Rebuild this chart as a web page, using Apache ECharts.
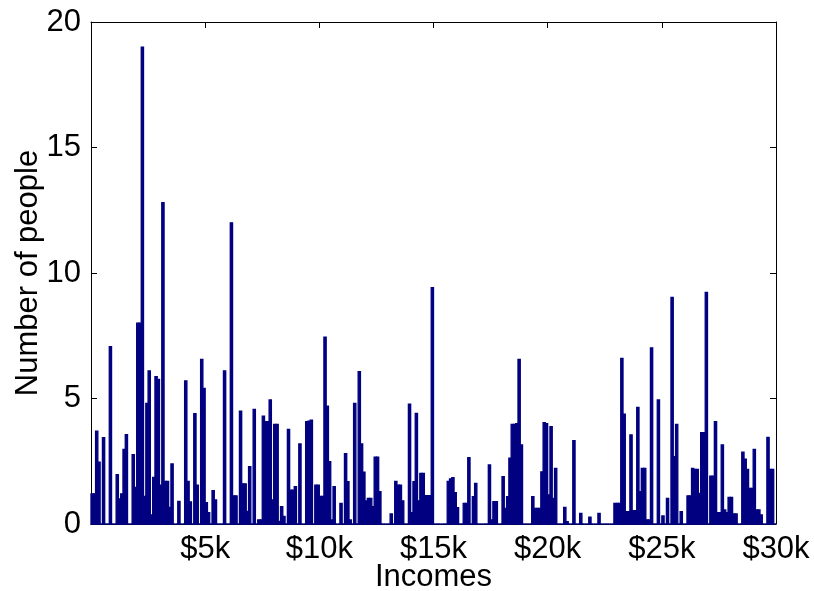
<!DOCTYPE html>
<html>
<head>
<meta charset="utf-8">
<script src="https://cdn.jsdelivr.net/npm/echarts@6/dist/echarts.min.js"></script>
<style>
  html, body { margin: 0; padding: 0; background: #ffffff; overflow: hidden; }
  #chart { position: absolute; left: 0; top: 0; width: 814px; height: 591px; }
</style>
</head>
<body>
<div id="chart"></div>
<script>
// Income histogram: 300 bins of $100 from $0 to $30k
const binStart = 0;        // dollars
const binWidth = 100;      // dollars per bin
const counts = [
  1.2, 1.2, 3.7, 2.46, 0, 3.44, 0, 0, 7.07, 0,
  0, 1.97, 1.0, 1.2, 2.97, 3.56, 0, 0, 2.76, 1.46,
  8.0, 8.0, 19.0, 1.1, 4.8, 6.1, 0.36, 1.86, 5.87, 5.76,
  1.55, 12.8, 1.7, 1.7, 0.66, 2.39, 0, 0, 0.9, 0,
  0, 5.7, 1.7, 0.88, 0, 4.4, 1.55, 0, 6.56, 5.4,
  0.85, 0.45, 0, 1.33, 0.96, 0, 0, 0, 6.1, 0,
  0, 12.0, 1.12, 1.12, 0, 4.5, 1.6, 1.6, 0.5, 2.28,
  0, 4.57, 0, 0.16, 0.16, 4.3, 4.08, 4.08, 4.94, 0.96,
  3.97, 3.97, 0.1, 0.69, 0.3, 0, 3.77, 1.35, 1.35, 1.49,
  0, 3.19, 0, 0, 4.08, 4.1, 4.14, 0, 1.55, 1.55,
  1.1, 1.1, 7.44, 4.7, 2.48, 0.16, 1.49, 0, 0, 0.82,
  0, 2.8, 1.69, 0.16, 0, 4.8, 0, 6.07, 3.19, 2.07,
  0.92, 1.02, 1.02, 0.69, 2.66, 2.66, 1.29, 0, 0, 0,
  0, 0.4, 0, 1.7, 1.55, 1.55, 0.92, 0, 0, 4.77,
  0.45, 1.69, 4.41, 0.92, 2.02, 2.02, 1.13, 1.13, 1.13, 9.42,
  0, 0, 0, 0, 0, 0, 1.7, 1.8, 1.85, 1.25,
  0.65, 0, 0, 0.82, 0.82, 2.64, 0, 1.09, 1.62, 0,
  0, 0, 0, 0, 2.35, 0.16, 0.89, 0.89, 0, 0,
  1.89, 0.62, 1.09, 2.62, 3.97, 3.97, 4.0, 6.56, 3.15, 0,
  0, 0, 0, 1.09, 0.62, 0.62, 0.62, 2.08, 4.04, 4.0,
  1.16, 3.88, 1.02, 2.22, 0, 0, 0, 0.66, 0.09, 0,
  0, 3.32, 0, 0, 0.42, 0, 0, 0, 0.27, 0,
  0, 0, 0.42, 0, 0, 0, 0, 0, 0, 0.82,
  0.82, 0.82, 6.6, 4.38, 0.49, 0.49, 3.55, 0.53, 0.53, 4.65,
  1.29, 2.22, 2.22, 0.16, 0.16, 7.02, 0, 0, 4.94, 0,
  0.32, 0, 1.02, 0, 9.03, 2.68, 3.97, 0, 0.49, 0,
  0, 1.12, 1.12, 2.22, 2.18, 2.18, 1.22, 3.64, 3.64, 9.23,
  0, 1.91, 1.91, 4.08, 0.45, 0.45, 3.15, 0.56, 0.45, 1.06,
  1.06, 0.4, 0.4, 0, 0, 2.86, 2.58, 2.18, 1.42, 1.42,
  2.97, 0.56, 0.56, 0.36, 0, 0, 3.45, 2.18, 2.18, 0
];

// Axis ticks and their labels
const xTicks = [0, 5000, 10000, 15000, 20000, 25000, 30000];
const xTickLabels = ['', '$5k', '$10k', '$15k', '$20k', '$25k', '$30k'];
const yTicks = [0, 5, 10, 15, 20];
const yTickLabels = ['0', '5', '10', '15', '20'];

// [left edge, right edge, count] for each bin
const bins = counts.map((c, i) => [binStart + i * binWidth, binStart + (i + 1) * binWidth, c]);

const FONT = '"Liberation Sans", Arial, Helvetica, sans-serif';
const FONT_SIZE = 31;
const barColor = '#000080';
const axisColor = '#000000';

const chart = echarts.init(document.getElementById('chart'), null, { renderer: 'canvas', width: 814, height: 591 });

const commonTick = { show: true, inside: true, length: 6, lineStyle: { color: axisColor, width: 1 } };
const xLabelFor = v => { const k = xTicks.indexOf(v); return k >= 0 ? xTickLabels[k] : ''; };
const yLabelFor = v => { const k = yTicks.indexOf(v); return k >= 0 ? yTickLabels[k] : ''; };

chart.setOption({
  animation: false,
  backgroundColor: '#ffffff',
  grid: { left: 91, right: 38, top: 22, bottom: 67, containLabel: false, outerBoundsMode: 'none' },
  xAxis: [
    {
      type: 'value', position: 'bottom',
      min: xTicks[0], max: xTicks[xTicks.length - 1], interval: 5000,
      axisLine: { show: true, onZero: false, lineStyle: { color: axisColor, width: 1 } },
      axisTick: commonTick,
      splitLine: { show: false },
      axisLabel: { show: true, formatter: xLabelFor, color: '#000', fontFamily: FONT, fontSize: FONT_SIZE, margin: 10 },
      name: 'Incomes', nameLocation: 'middle', nameGap: 38, nameMoveOverlap: false,
      nameTextStyle: { color: '#000', fontFamily: FONT, fontSize: FONT_SIZE }
    },
    {
      type: 'value', position: 'top',
      min: xTicks[0], max: xTicks[xTicks.length - 1], interval: 5000,
      axisLine: { show: true, onZero: false, lineStyle: { color: axisColor, width: 1 } },
      axisTick: commonTick,
      splitLine: { show: false },
      axisLabel: { show: false }
    }
  ],
  yAxis: [
    {
      type: 'value', position: 'left',
      min: yTicks[0], max: yTicks[yTicks.length - 1], interval: 5,
      axisLine: { show: true, onZero: false, lineStyle: { color: axisColor, width: 1 } },
      axisTick: commonTick,
      splitLine: { show: false },
      axisLabel: { show: true, formatter: yLabelFor, color: '#000', fontFamily: FONT, fontSize: FONT_SIZE, margin: 10 },
      name: 'Number of people', nameLocation: 'middle', nameGap: 47, nameMoveOverlap: false,
      nameTextStyle: { color: '#000', fontFamily: FONT, fontSize: FONT_SIZE }
    },
    {
      type: 'value', position: 'right',
      min: yTicks[0], max: yTicks[yTicks.length - 1], interval: 5,
      axisLine: { show: true, onZero: false, lineStyle: { color: axisColor, width: 1 } },
      axisTick: commonTick,
      splitLine: { show: false },
      axisLabel: { show: false }
    }
  ],
  series: [{
    type: 'custom',
    xAxisIndex: 0,
    yAxisIndex: 0,
    data: bins,
    clip: false,
    z: 3,
    renderItem: function (params, api) {
      const lo = api.coord([api.value(0), 0]);
      const hi = api.coord([api.value(1), api.value(2)]);
      return {
        type: 'rect',
        shape: { x: lo[0], y: hi[1], width: hi[0] - lo[0], height: lo[1] - hi[1] },
        style: { fill: barColor, stroke: barColor, lineWidth: 1.3 }
      };
    }
  }]
});
</script>
</body>
</html>
